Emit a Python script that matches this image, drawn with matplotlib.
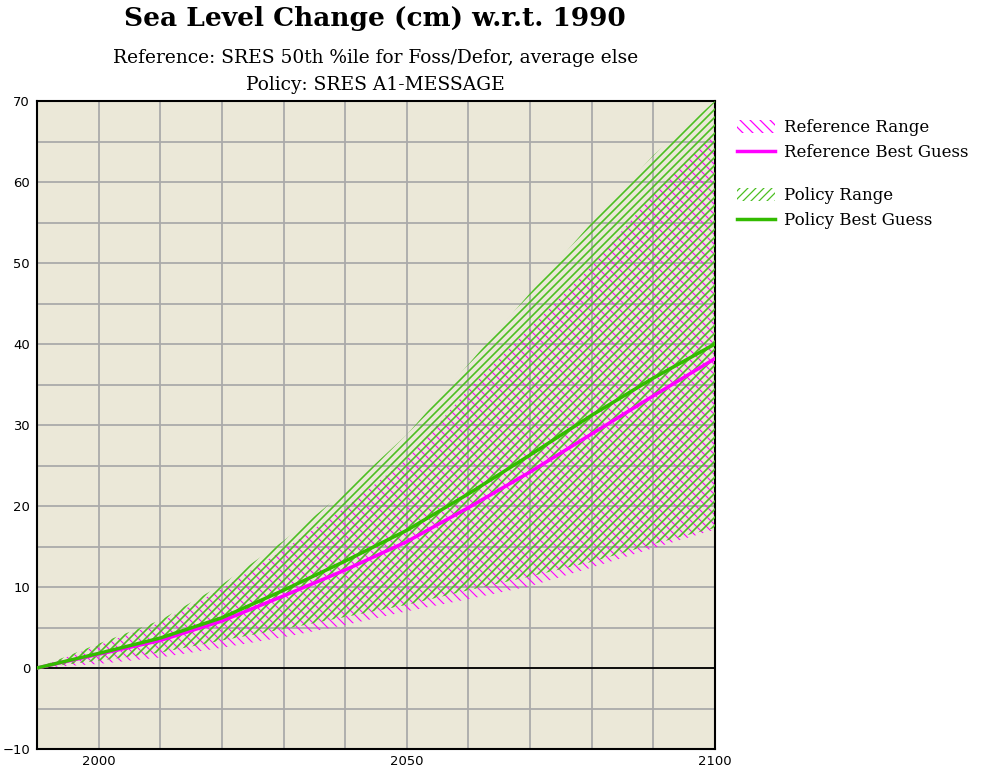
import numpy as np
import matplotlib
matplotlib.use('Agg')
import matplotlib.pyplot as plt
from matplotlib.patches import Patch
from matplotlib.lines import Line2D

# ── Sea level projections (cm, relative to 1990) ─────────────────────────────
years = [1990, 2000, 2010, 2020, 2030, 2040, 2050, 2060, 2070, 2080, 2090, 2100]

ref_best = [0, 1.7, 3.4, 5.8, 8.9, 12.1, 15.6, 19.8, 24.2, 28.9, 33.6, 38.2]
ref_low  = [0, 0.5, 1.3, 2.5, 3.8, 5.3, 7.0, 8.5, 10.1, 12.4, 14.8, 17.1]
ref_high = [0, 2.8, 5.6, 9.8, 14.6, 19.8, 25.8, 34.4, 42.0, 49.6, 58.5, 66.0]

pol_best = [0, 1.8, 3.7, 6.2, 9.6, 13.2, 17.0, 21.5, 26.3, 31.2, 35.8, 40.0]
pol_low  = [0, 0.9, 1.9, 3.4, 4.8, 6.3, 7.8, 9.6, 11.3, 13.1, 15.3, 17.3]
pol_high = [0, 3.0, 5.9, 10.3, 15.7, 21.8, 28.8, 37.5, 46.3, 55.0, 63.3, 70.0]

x_ticks = [2000, 2050, 2100]
y_ticks = [-10, 0, 10, 20, 30, 40, 50, 60, 70]

MAGENTA = '#ff00ff'
GREEN_LINE = '#33bb00'
GREEN_HATCH = '#4cbf22'
BG = '#ebe8d8'
GRID = '#aaaaaa'
SERIF = ['DejaVu Serif']

# hatch spacing is tied to the dpi: 120 dpi gives whole-pixel line spacing
DPI = 120
S = 100 / DPI          # sizes below are written for 100 dpi
W, H = 998, 772

REF_HATCH = '\\\\\\\\'   # 24 lines/inch -> 5 px
POL_HATCH = '/////'      # 30 lines/inch -> 4 px

fig = plt.figure(figsize=(W / DPI, H / DPI), dpi=DPI, facecolor='white')
ax = fig.add_axes([37 / W, 1 - 749 / H, (715 - 37) / W, (749 - 101) / H])
ax.set_facecolor(BG)

# ranges
with plt.rc_context({'hatch.linewidth': 0.8 * S}):
    ax.fill_between(years, ref_low, ref_high, facecolor='none', edgecolor=MAGENTA,
                    linewidth=0, hatch=REF_HATCH, zorder=2)
with plt.rc_context({'hatch.linewidth': 1.2 * S}):
    ax.fill_between(years, pol_low, pol_high, facecolor='none', edgecolor=GREEN_HATCH,
                    linewidth=0, hatch=POL_HATCH, zorder=3)

# best guesses
ax.plot(years, ref_best, color=MAGENTA, lw=2.5 * S, zorder=4)
ax.plot(years, pol_best, color=GREEN_LINE, lw=2.5 * S, zorder=5)

ax.axhline(0, color='black', lw=1.3 * S, zorder=1.5)

ax.set_xlim(1990, 2100)
ax.set_ylim(-10, 70)
ax.set_xticks(np.arange(1990, 2101, 10), minor=True)
ax.set_yticks(np.arange(-10, 71, 5), minor=True)
ax.set_xticks(x_ticks)
ax.set_yticks(y_ticks)
ax.grid(which='both', color=GRID, lw=1.3 * S, zorder=1)
ax.set_axisbelow(True)
ax.tick_params(which='both', length=0)
ax.tick_params(axis='y', pad=5 * S, labelsize=9.5 * S)
ax.tick_params(axis='x', pad=4 * S, labelsize=9.5 * S)
for s in ax.spines.values():
    s.set_color('black')
    s.set_linewidth(1.5 * S)

# titles
fig.text(0.376, 0.976, 'Sea Level Change (cm) w.r.t. 1990', ha='center', va='center',
         family=SERIF, fontsize=19 * S, fontweight='bold')
fig.text(0.376, 0.925, 'Reference: SRES 50th %ile for Foss/Defor, average else',
         ha='center', va='center', family=SERIF, fontsize=13.4 * S)
fig.text(0.376, 0.890, 'Policy: SRES A1-MESSAGE',
         ha='center', va='center', family=SERIF, fontsize=13.4 * S)

# legends
leg_kw = dict(frameon=False, prop={'family': SERIF, 'size': 12 * S}, loc='upper left',
              handlelength=2.3, handleheight=0.8, handletextpad=0.55,
              labelspacing=0.5, borderpad=0, borderaxespad=0)
with plt.rc_context({'hatch.linewidth': 0.9 * S}):
    ref_handles = [Patch(facecolor='none', edgecolor=MAGENTA, linewidth=0, hatch=REF_HATCH),
                   Line2D([], [], color=MAGENTA, lw=2.5 * S)]
    pol_handles = [Patch(facecolor='none', edgecolor=GREEN_HATCH, linewidth=0, hatch=POL_HATCH),
                   Line2D([], [], color=GREEN_LINE, lw=2.5 * S)]
    fig.legend(ref_handles, ['Reference Range', 'Reference Best Guess'],
               bbox_to_anchor=(737 / W, 1 - 119 / H), **leg_kw)
    fig.legend(pol_handles, ['Policy Range', 'Policy Best Guess'],
               bbox_to_anchor=(737 / W, 1 - 187 / H), **leg_kw)

fig.savefig('out.png', dpi=DPI, facecolor='white')
